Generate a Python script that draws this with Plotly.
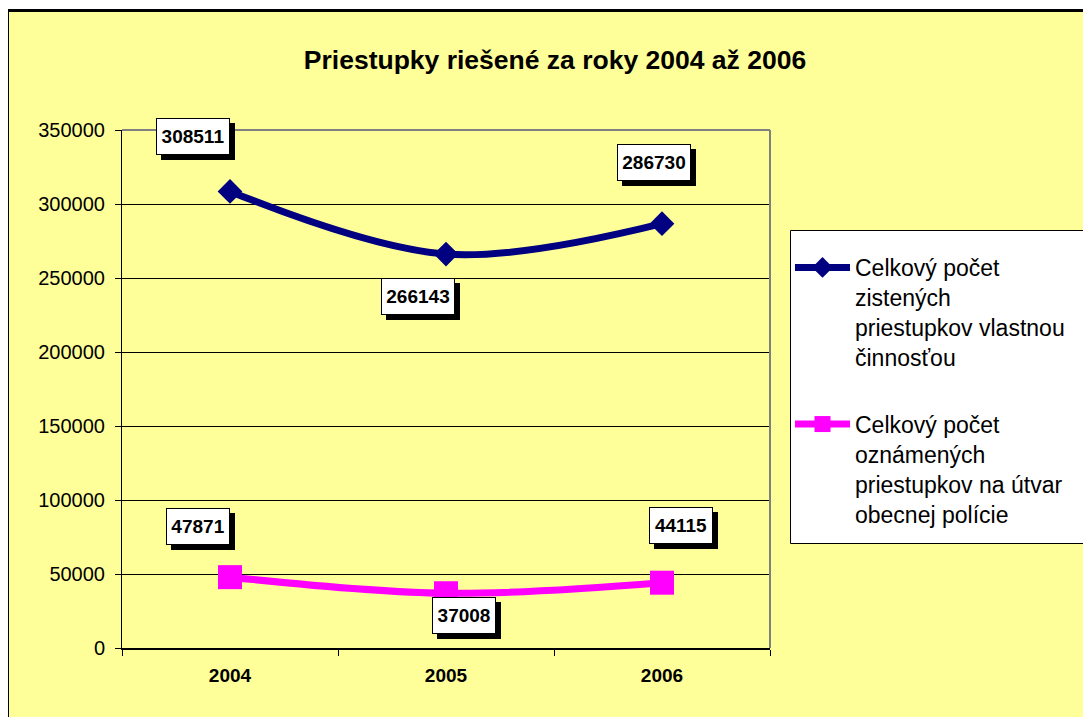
import plotly.graph_objects as go

years = ["2004", "2005", "2006"]
zistene = [308511, 266143, 286730]
oznamene = [47871, 37008, 44115]
name_zistene = "Celkový počet<br>zistených<br>priestupkov vlastnou<br>činnosťou"
name_oznamene = "Celkový počet<br>oznámených<br>priestupkov na útvar<br>obecnej polície"
title_text = "Priestupky riešené za roky 2004 až 2006"
y_ticks = [0, 50000, 100000, 150000, 200000, 250000, 300000, 350000]

# pixel offsets of the data-label boxes relative to their points (style only)
off_zistene = [(-37, 55), (-28, -42), (-8, 61)]
off_oznamene = [(-32, 51), (18, -22), (19, 57)]

FONT = "Liberation Sans, Arial, sans-serif"
PAGE_W, PAGE_H = 1091, 717
OFF = 8  # default body margin of the html page
W, H = PAGE_W - OFF, PAGE_H - OFF
# plot area in page pixels
L, R, T, B = 122, 770, 130, 648
pw, ph = R - L, B - T

def px(x):
    return (x - L) / pw

def py(y):
    return (B - y) / ph

fig = go.Figure()
fig.add_trace(go.Scatter(
    x=years, y=zistene, name=name_zistene, mode="lines+markers",
    line=dict(color="#000080", width=7, shape="spline", smoothing=1),
    marker=dict(symbol="diamond", size=19, color="#000080"),
    legendgroup="a", hoverinfo="skip"))
fig.add_trace(go.Scatter(
    x=years, y=oznamene, name=name_oznamene, mode="lines+markers",
    line=dict(color="#FF00FF", width=7, shape="spline", smoothing=1),
    marker=dict(symbol="square", size=24, color="#FF00FF"),
    legendgroup="b", hoverinfo="skip"))

annotations = []
for ys, offs in ((zistene, off_zistene), (oznamene, off_oznamene)):
    for i, (y, (dx, dy)) in enumerate(zip(ys, offs)):
        label = "%d" % y
        box_w = round(len(label) * 10.5 + 1)
        common = dict(x=i, y=y, xref="x", yref="y", showarrow=False,
                      borderwidth=1, borderpad=4, width=box_w, height=27,
                      font=dict(family=FONT, size=19, color="black"))
        # drop shadow (blank box)
        annotations.append(dict(common, text="&nbsp;", xshift=dx + 5, yshift=dy - 5,
                                bgcolor="black", bordercolor="black"))
        annotations.append(dict(common, text="<b>%s</b>" % label, xshift=dx, yshift=dy,
                                bgcolor="white", bordercolor="black"))

shapes = [
    # chart area background with black frame
    dict(type="rect", xref="paper", yref="paper", layer="below",
         x0=px(7.5), x1=px(PAGE_W + 20), y0=py(PAGE_H + 20), y1=py(10.5),
         fillcolor="#FFFF99", line=dict(color="black", width=3)),
    # legend box
    dict(type="rect", xref="paper", yref="paper", layer="below",
         x0=px(790.5), x1=px(PAGE_W + 20), y0=py(543.5), y1=py(230.5),
         fillcolor="white", line=dict(color="black", width=1)),
    # plot area gray border (top, right)
    dict(type="line", xref="paper", yref="paper", layer="above",
         x0=0, x1=1, y0=1, y1=1, line=dict(color="#808080", width=2)),
    dict(type="line", xref="paper", yref="paper", layer="above",
         x0=1, x1=1, y0=0, y1=1, line=dict(color="#808080", width=2)),
]

fig.update_layout(
    width=W, height=H,
    margin=dict(l=L - OFF, r=PAGE_W - R, t=T - OFF, b=PAGE_H - B, pad=0),
    paper_bgcolor="white", plot_bgcolor="#C0C0C0",
    font=dict(family=FONT, color="black"),
    title=dict(text="<b>%s</b>" % title_text, x=(555 - OFF) / W, xref="container",
               xanchor="center", y=1 - (60 - OFF) / H, yref="container",
               yanchor="middle",
               font=dict(family=FONT, size=26.5, color="black")),
    xaxis=dict(type="category", range=[-0.5, 2.5], tickson="boundaries",
               ticks="outside", ticklen=6, tickcolor="black", tickwidth=1,
               showline=True, linecolor="black", linewidth=2, showgrid=False,
               tickfont=dict(family=FONT, size=19, color="black", weight="bold"),
               ticklabelstandoff=9, fixedrange=True),
    yaxis=dict(range=[0, 350000], tickvals=y_ticks, tickformat="d",
               ticks="outside", ticklen=6, tickcolor="black", tickwidth=1,
               showline=True, linecolor="black", linewidth=1,
               showgrid=True, gridcolor="black", gridwidth=1, zeroline=False,
               tickfont=dict(family=FONT, size=20, color="black"),
               ticklabelstandoff=6, fixedrange=True),
    legend=dict(x=px(790), xanchor="left", y=py(246), yanchor="top",
                bgcolor="rgba(0,0,0,0)", borderwidth=0, valign="top",
                traceorder="grouped", tracegroupgap=34, itemwidth=55,
                font=dict(family=FONT, size=23, color="black")),
    annotations=annotations,
    shapes=shapes,
    showlegend=True,
)

fig.write_html("out.html")
